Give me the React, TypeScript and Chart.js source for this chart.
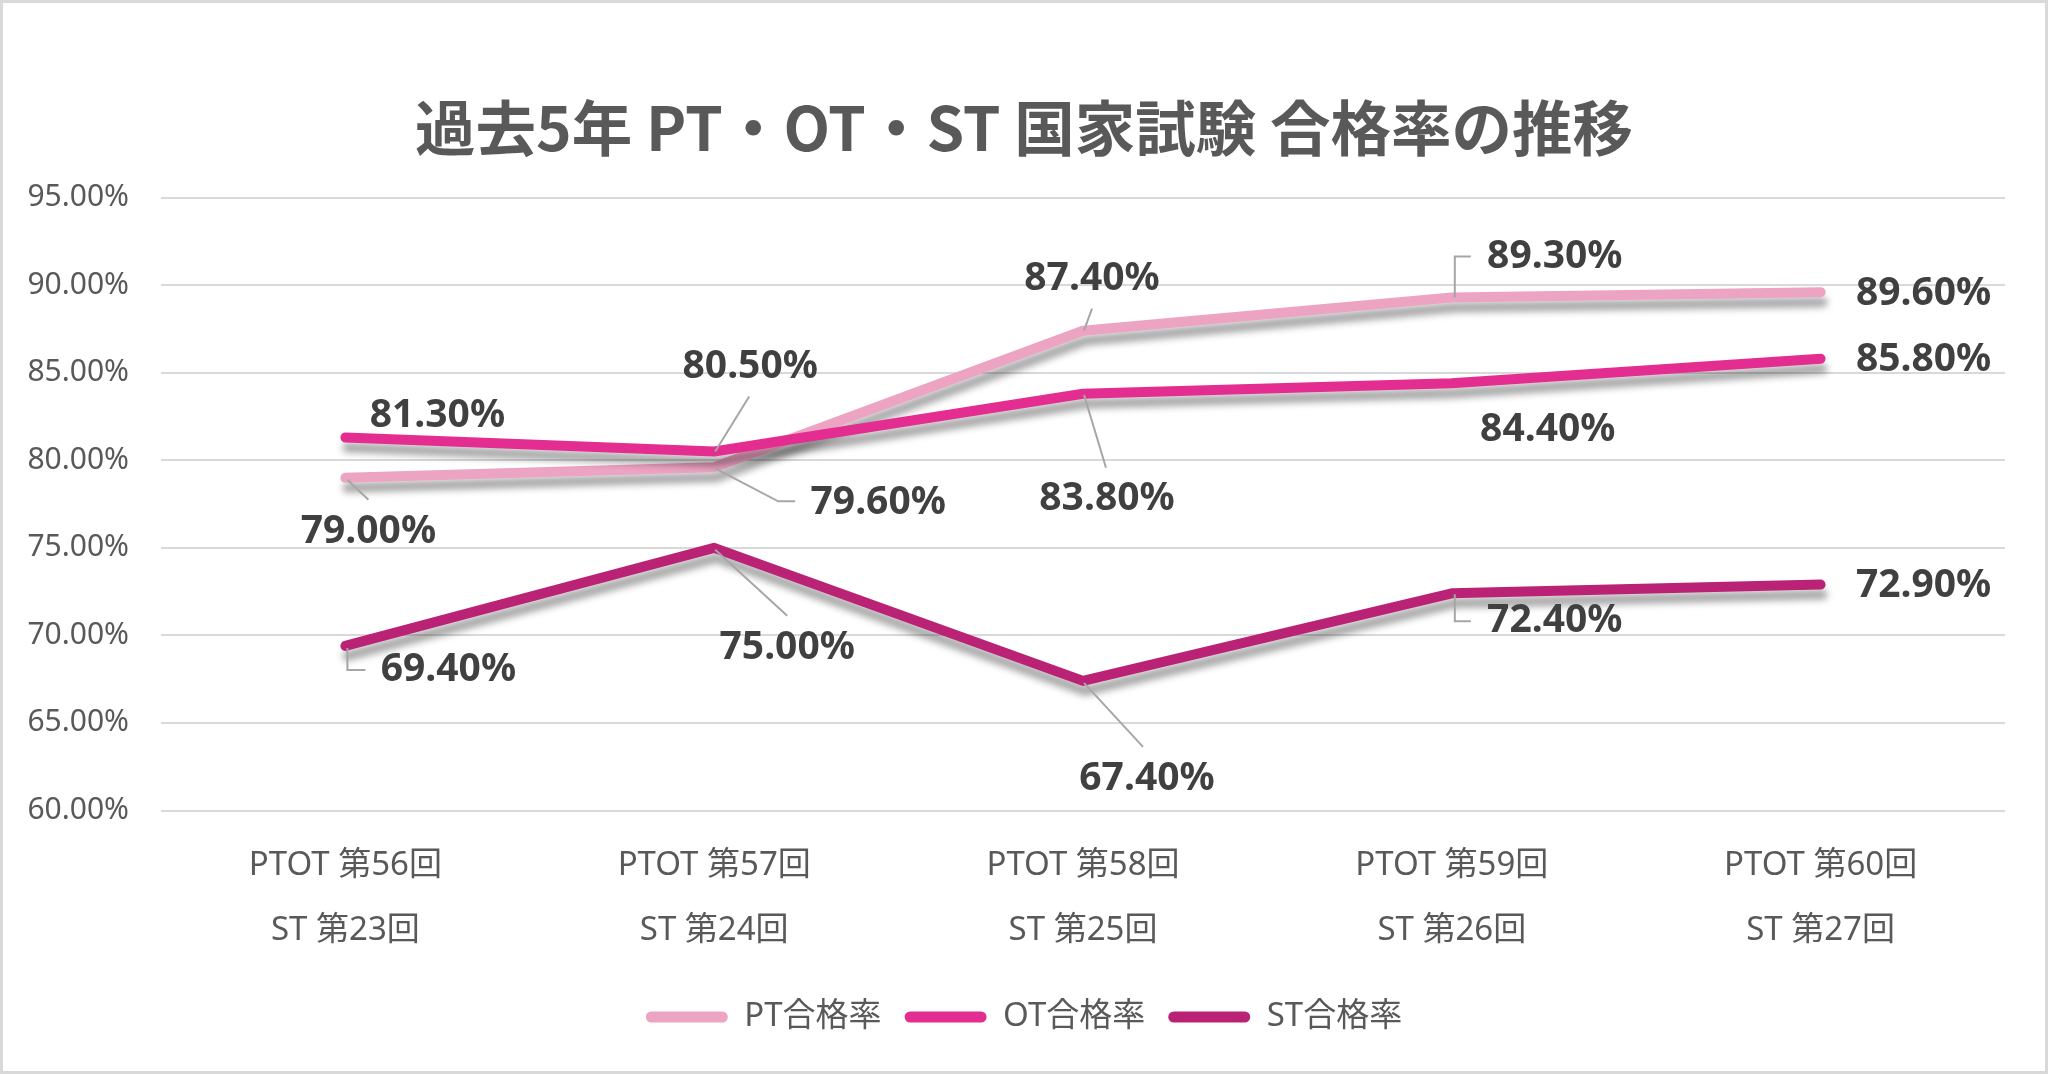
import React, { useEffect, useRef } from "react";
import { Chart, registerables } from "chart.js";

Chart.register(...registerables);

// ---- data ----
const categories: string[][] = [
  ["PTOT 第56回", "ST 第23回"],
  ["PTOT 第57回", "ST 第24回"],
  ["PTOT 第58回", "ST 第25回"],
  ["PTOT 第59回", "ST 第26回"],
  ["PTOT 第60回", "ST 第27回"],
];
const seriesNames = ["PT合格率", "OT合格率", "ST合格率"];
const ptRates = [79.0, 79.6, 87.4, 89.3, 89.6];
const otRates = [81.3, 80.5, 83.8, 84.4, 85.8];
const stRates = [69.4, 75.0, 67.4, 72.4, 72.9];
const yMin = 60;
const yMax = 95;
const yStep = 5;
const titleText = "過去5年 PT・OT・ST 国家試験 合格率の推移";

// ---- styles / layout ----
const colors = ["#EDA3C2", "#E42D91", "#BA2276"];
const TEXT_DARK = "#404040";
const TEXT_GRAY = "#595959";
const LEADER = "#A6A6A6";

// label offset from point (dx, dy) and leader polyline relative to point
type LabelPos = { dx: number; dy: number; leader?: number[][] };
const labelLayout: LabelPos[][] = [
  [
    { dx: 23, dy: 54, leader: [[2, 2], [23, 22]] },
    { dx: 164, dy: 36, leader: [[1, 1], [64, 34], [81, 34]] },
    { dx: 9, dy: -52, leader: [[1, 0], [9, -22]] },
    { dx: 103, dy: -41, leader: [[3, 0], [3, -41], [19, -41]] },
    { dx: 103, dy: 2 },
  ],
  [
    { dx: 92, dy: -22 },
    { dx: 36, dy: -85, leader: [[1, 0], [35, -55]] },
    { dx: 24, dy: 105, leader: [[1, 1], [23, 74]] },
    { dx: 96, dy: 47 },
    { dx: 103, dy: 1 },
  ],
  [
    { dx: 103, dy: 24, leader: [[2, 2], [2, 24], [20, 24]] },
    { dx: 73, dy: 100, leader: [[1, 2], [73, 68]] },
    { dx: 64, dy: 98, leader: [[1, 2], [60, 66]] },
    { dx: 103, dy: 28, leader: [[3, 1], [3, 28], [19, 28]] },
    { dx: 103, dy: 1 },
  ],
];

const shadowPlugin = {
  id: "lineShadow",
  beforeDatasetDraw(chart: any) {
    const ctx = chart.ctx;
    ctx.save();
    ctx.shadowColor = "rgba(0,0,0,0.35)";
    ctx.shadowBlur = 7;
    ctx.shadowOffsetX = 2;
    ctx.shadowOffsetY = 10;
  },
  afterDatasetDraw(chart: any) {
    chart.ctx.restore();
  },
};

const labelPlugin = {
  id: "dataLabels",
  afterDatasetsDraw(chart: any) {
    const ctx = chart.ctx;
    ctx.save();
    chart.data.datasets.forEach((ds: any, di: number) => {
      const meta = chart.getDatasetMeta(di);
      meta.data.forEach((pt: any, i: number) => {
        const lay = labelLayout[di][i];
        const x = pt.x;
        const y = pt.y;
        if (lay.leader) {
          ctx.beginPath();
          ctx.strokeStyle = LEADER;
          ctx.lineWidth = 2;
          lay.leader.forEach((p, k) => {
            if (k === 0) ctx.moveTo(x + p[0], y + p[1]);
            else ctx.lineTo(x + p[0], y + p[1]);
          });
          ctx.stroke();
        }
        ctx.font = 'bold 39px "Noto Sans"';
        ctx.fillStyle = TEXT_DARK;
        ctx.textAlign = "center";
        ctx.textBaseline = "middle";
        ctx.fillText(ds.data[i].toFixed(2) + "%", x + lay.dx, y + lay.dy);
      });
    });
    ctx.restore();
  },
};

export default function App() {
  const canvasRef = useRef<HTMLCanvasElement | null>(null);

  useEffect(() => {
    const canvas = canvasRef.current;
    if (!canvas) return;
    const series = [ptRates, otRates, stRates];
    const chart = new Chart(canvas, {
      type: "line",
      data: {
        labels: categories,
        datasets: series.map((vals, i) => ({
          label: seriesNames[i],
          data: vals,
          yAxisID: "y",
          borderColor: colors[i],
          backgroundColor: colors[i],
          borderWidth: 10,
          borderCapStyle: "round",
          borderJoinStyle: "round",
          pointRadius: 0,
          pointHoverRadius: 0,
          tension: 0,
          fill: false,
          order: 3 - i,
        })) as any,
      },
      options: {
        responsive: false,
        animation: false,
        devicePixelRatio: 1,
        events: [],
        layout: { padding: { top: 92, left: 0, right: 0, bottom: 30.5 } },
        plugins: {
          title: {
            display: true,
            text: titleText,
            color: TEXT_GRAY,
            font: { family: '"Noto Sans CJK JP"', size: 60.5, weight: "bold", lineHeight: 1.2 },
            padding: { top: 0, bottom: 33 },
          },
          legend: {
            display: true,
            position: "bottom",
            labels: {
              boxWidth: 82,
              boxHeight: 11,
              useBorderRadius: true,
              borderRadius: 5.5,
              padding: 23,
              color: TEXT_GRAY,
              font: { family: '"Noto Sans", "Noto Sans CJK JP"', size: 33 },
              sort: (a: any, b: any) => a.datasetIndex - b.datasetIndex,
              generateLabels: (c: any) =>
                Chart.defaults.plugins.legend.labels
                  .generateLabels(c)
                  .map((l: any) => ({ ...l, lineWidth: 0 })),
            } as any,
          },
          tooltip: { enabled: false },
        },
        scales: {
          x: {
            offset: true,
            grid: { display: false, drawTicks: false },
            border: { display: false },
            afterFit: (scale: any) => {
              scale.height = 167;
            },
            ticks: {
              color: TEXT_GRAY,
              padding: 23,
              maxRotation: 0,
              autoSkip: false,
              font: { family: '"Noto Sans", "Noto Sans CJK JP"', size: 33, lineHeight: 65 / 33 },
            },
          },
          y: {
            position: "left",
            min: yMin,
            max: yMax,
            grid: { color: "#D9D9D9", lineWidth: 2, drawTicks: false },
            border: { display: false },
            afterFit: (scale: any) => {
              scale.width = 161;
            },
            ticks: {
              stepSize: yStep,
              padding: 32,
              color: TEXT_GRAY,
              font: { family: '"Noto Sans"', size: 30 },
              callback: (v: any) => Number(v).toFixed(2) + "%",
            },
          },
          yRightSpace: {
            position: "right",
            min: yMin,
            max: yMax,
            grid: { display: false, drawTicks: false },
            border: { display: false },
            ticks: { display: false },
            afterFit: (scale: any) => {
              scale.width = 43;
            },
          },
        },
      },
      plugins: [shadowPlugin, labelPlugin],
    });
    return () => chart.destroy();
  }, []);

  return (
    <div
      style={{
        position: "fixed",
        left: 0,
        top: 0,
        width: 2048,
        height: 1074,
        background: "#FFFFFF",
      }}
    >
      <canvas ref={canvasRef} width={2048} height={1074} style={{ display: "block" }} />
      <div
        style={{
          position: "absolute",
          left: 0,
          top: 0,
          width: 2048,
          height: 1074,
          boxSizing: "border-box",
          border: "3px solid #D9D9D9",
          pointerEvents: "none",
        }}
      />
    </div>
  );
}
